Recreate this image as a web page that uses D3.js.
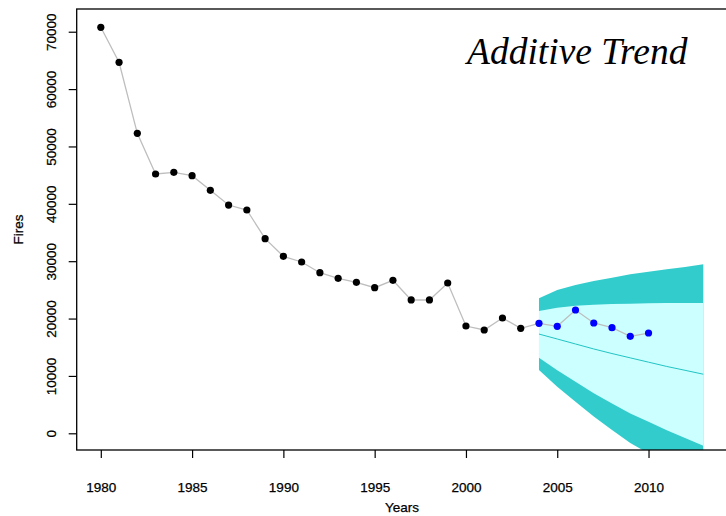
<!DOCTYPE html>
<html>
<head>
<meta charset="utf-8">
<script src="https://cdn.jsdelivr.net/npm/d3@7"></script>
<style>
  html, body { margin: 0; padding: 0; background: #fff; }
  svg { display: block; }
  text { font-family: "Liberation Sans", Arial, Helvetica, sans-serif; fill: #000; }
</style>
</head>
<body>
<svg id="chart" width="726" height="516"></svg>
<script>
// Observed fires per year (training period)
const trainYears = [1980,1981,1982,1983,1984,1985,1986,1987,1988,1989,1990,1991,
                    1992,1993,1994,1995,1996,1997,1998,1999,2000,2001,2002,2003];
const trainFires = [70770,64670,52290,45200,45490,44900,42360,39790,38920,33920,30850,29860,
                    27990,27020,26320,25380,26670,23240,23240,26200,18700,18010,20100,18300];

// Held-out observations
const testYears = [2004,2005,2006,2007,2008,2009,2010];
const testFires = [19170,18650,21490,19230,18410,16910,17480];

// Additive-trend forecast with 80% and 95% intervals
const fcYears = [2004,2005,2006,2007,2008,2009,2010,2011,2012,2013];
const fcMean  = [17300,16440,15570,14700,13900,13150,12400,11650,10980,10300];
const fcLo80  = [13180,11000,9000,7000,5200,3460,2000,550,-820,-2160];
const fcHi80  = [21320,21890,22240,22420,22540,22590,22650,22700,22710,22720];
const fcLo95  = [11030,8120,5520,2920,590,-1680,-3510,-5330,-7070,-8760];
const fcHi95  = [23530,24980,25850,26550,27120,27710,28170,28590,28990,29460];

const xTicks = [1980,1985,1990,1995,2000,2005,2010];
const yTicks = [0,10000,20000,30000,40000,50000,60000,70000];

const svg = d3.select("#chart");
const plot = { left: 76.7, right: 727.4, top: 9, bottom: 450 };

const x = d3.scaleLinear().domain([1978.68, 2014.32]).range([plot.left, plot.right]);
const y = d3.scaleLinear().domain([-2911, 73960]).range([plot.bottom, plot.top]);

svg.append("defs").append("clipPath").attr("id", "plotClip")
  .append("rect")
  .attr("x", plot.left).attr("y", plot.top)
  .attr("width", plot.right - plot.left).attr("height", plot.bottom - plot.top);

const g = svg.append("g").attr("clip-path", "url(#plotClip)");

// Prediction interval bands
const band = (lo, hi) => d3.area()
  .x((d, i) => x(fcYears[i]))
  .y0((d, i) => y(lo[i]))
  .y1((d, i) => y(hi[i]));

g.append("path").attr("d", band(fcLo95, fcHi95)(fcYears)).attr("fill", "#33cccc");
g.append("path").attr("d", band(fcLo80, fcHi80)(fcYears)).attr("fill", "#ccffff");

// Forecast mean
g.append("path")
  .attr("d", d3.line().x((d, i) => x(fcYears[i])).y((d, i) => y(fcMean[i]))(fcYears))
  .attr("fill", "none").attr("stroke", "#22c4c4").attr("stroke-width", 1);

// Connecting line through all observations
const allYears = trainYears.concat(testYears);
const allFires = trainFires.concat(testFires);
g.append("path")
  .attr("d", d3.line().x((d, i) => x(allYears[i])).y((d, i) => y(allFires[i]))(allYears))
  .attr("fill", "none").attr("stroke", "#bebebe").attr("stroke-width", 1.3);

g.selectAll("circle.train").data(trainYears).join("circle")
  .attr("class", "train")
  .attr("cx", (d) => x(d)).attr("cy", (d, i) => y(trainFires[i]))
  .attr("r", 3.6).attr("fill", "#000");

g.selectAll("circle.test").data(testYears).join("circle")
  .attr("class", "test")
  .attr("cx", (d) => x(d)).attr("cy", (d, i) => y(testFires[i]))
  .attr("r", 3.6).attr("fill", "#0000ff");

// Plot frame
svg.append("rect")
  .attr("x", plot.left).attr("y", plot.top)
  .attr("width", plot.right - plot.left).attr("height", plot.bottom - plot.top)
  .attr("fill", "none").attr("stroke", "#000").attr("stroke-width", 1.3);

// Axes
const tickFont = 13.5;
const xAxis = d3.axisBottom(x).tickValues(xTicks).tickSize(8).tickFormat(d3.format("d"));
const gx = svg.append("g").attr("transform", `translate(0,${plot.bottom})`).call(xAxis);
gx.select(".domain").remove();
gx.selectAll(".tick line").attr("stroke", "#000").attr("stroke-width", 1.2);
gx.selectAll(".tick text").attr("font-size", tickFont)
  .attr("y", 37).attr("dy", "0.35em")
  .style("font-family", "Liberation Sans, Arial, sans-serif")
  .style("stroke", "#000").style("stroke-width", 0.25);

const yAxis = d3.axisLeft(y).tickValues(yTicks).tickSize(8).tickFormat(d3.format("d"));
const gy = svg.append("g").attr("transform", `translate(${plot.left},0)`).call(yAxis);
gy.select(".domain").remove();
gy.selectAll(".tick line").attr("stroke", "#000").attr("stroke-width", 1.2);
gy.selectAll(".tick text")
  .attr("x", null)
  .attr("text-anchor", "middle")
  .attr("font-size", tickFont)
  .attr("transform", "translate(-25,0) rotate(-90)")
  .attr("y", 0).attr("dy", "0.35em")
  .style("font-family", "Liberation Sans, Arial, sans-serif")
  .style("stroke", "#000").style("stroke-width", 0.25);

// Axis titles
svg.append("text")
  .attr("x", (plot.left + plot.right) / 2).attr("y", 512)
  .attr("text-anchor", "middle").attr("font-size", 13.5)
  .style("stroke", "#000").style("stroke-width", 0.25).text("Years");
svg.append("text")
  .attr("transform", `translate(23,${(plot.top + plot.bottom) / 2}) rotate(-90)`)
  .attr("text-anchor", "middle").attr("font-size", 13.5)
  .style("stroke", "#000").style("stroke-width", 0.25).text("Fires");

// Chart title
svg.append("text")
  .attr("x", 467).attr("y", 64)
  .style("font-family", "Liberation Serif, Times New Roman, serif")
  .style("font-style", "italic")
  .attr("font-size", 37.5).text("Additive Trend");
</script>
</body>
</html>
